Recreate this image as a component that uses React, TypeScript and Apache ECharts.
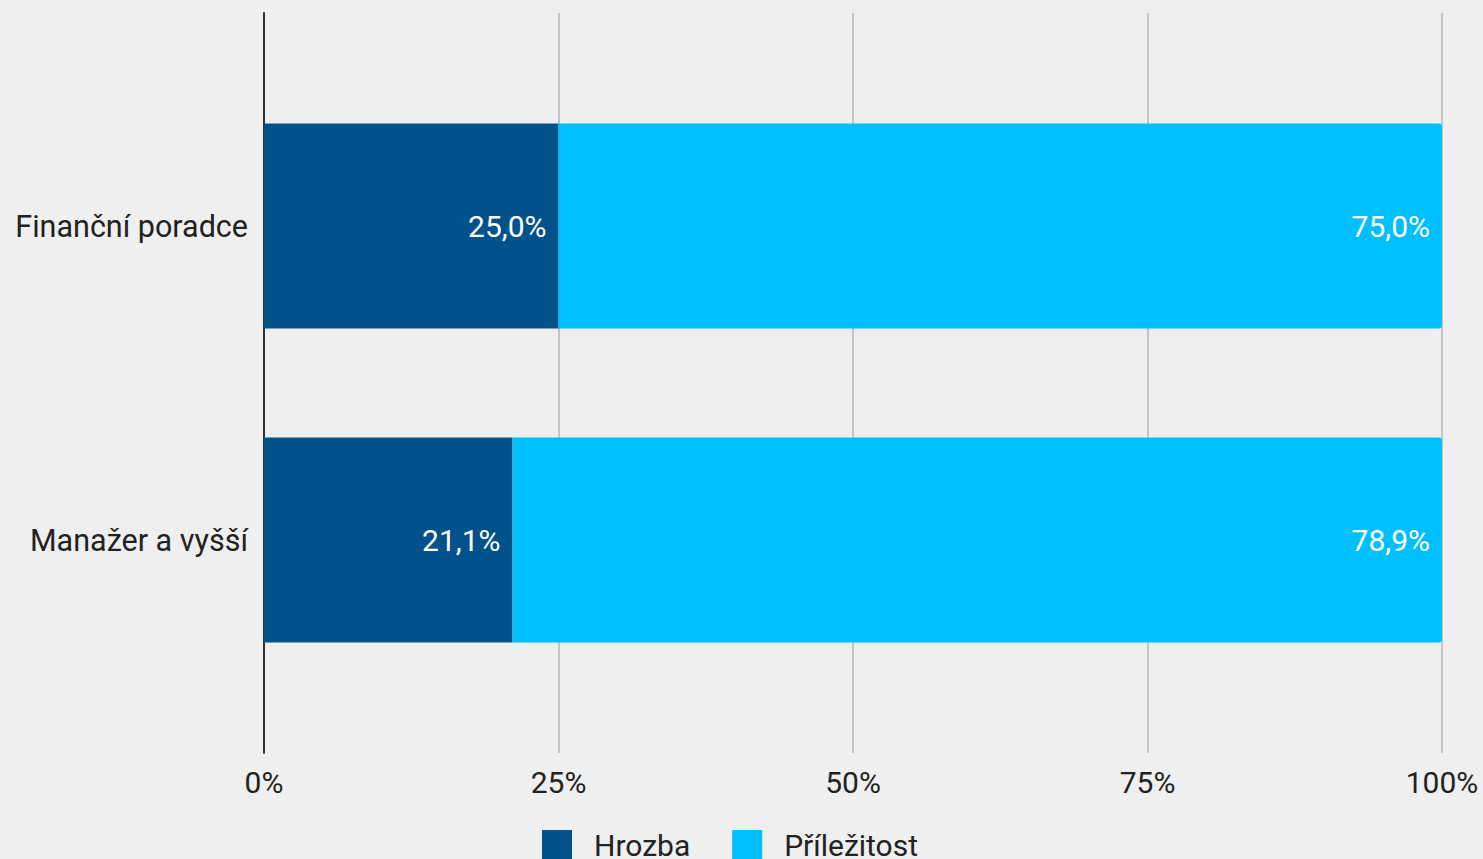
import React, { useEffect, useRef } from "react";
import * as echarts from "echarts";

const categories = ["Finanční poradce", "Manažer a vyšší"];
const hrozba = [25.0, 21.1];
const prilezitost = [75.0, 78.9];
const xTicks = [0, 25, 50, 75, 100];

export default function App() {
  const ref = useRef<HTMLDivElement>(null);
  useEffect(() => {
    if (!ref.current) return;
    const chart = echarts.init(ref.current, null, { renderer: "svg" });
    const fmt = (v: number) => v.toFixed(1).replace(".", ",") + "%";
    const font = "Roboto";
    chart.setOption({
      animation: false,
      backgroundColor: "#efefef",
      textStyle: { fontFamily: font },
      legend: {
        top: 830,
        left: 542,
        icon: "rect",
        itemWidth: 30,
        itemHeight: 30,
        itemGap: 42,
        padding: 0,
        textStyle: { fontSize: 30, color: "#222", fontFamily: font, padding: [0, 0, 0, 17] },
        data: ["Hrozba", "Příležitost"],
      },
      grid: [
        { left: 264, right: 41, top: 13, bottom: 106 },
        { left: 264, right: 41, top: 69, bottom: 162 },
      ],
      xAxis: [
        {
          gridIndex: 0,
          type: "value",
          min: 0,
          max: 100,
          interval: 25,
          axisLine: { show: false },
          axisTick: { show: false },
          splitLine: { show: true, lineStyle: { color: "#c4c4c4", width: 2 } },
          axisLabel: {
            formatter: (v: number) => (xTicks.includes(v) ? v + "%" : ""),
            fontSize: 30,
            color: "#222",
            margin: 14,
            fontFamily: font,
          },
        },
        {
          gridIndex: 1,
          type: "value",
          min: 0,
          max: 100,
          show: false,
        },
      ],
      yAxis: [
        {
          gridIndex: 0,
          type: "category",
          data: [""],
          axisLine: { show: true, lineStyle: { color: "#333", width: 2 } },
          axisTick: { show: false },
          axisLabel: { show: false },
        },
        {
          gridIndex: 1,
          type: "category",
          inverse: true,
          data: categories,
          axisLine: { show: false },
          axisTick: { show: false },
          axisLabel: { fontSize: 30.5, color: "#222", margin: 16, fontFamily: font, padding: [0, 0, 4, 0] },
        },
      ],
      series: [
        {
          name: "Hrozba",
          type: "bar",
          stack: "a",
          xAxisIndex: 1,
          yAxisIndex: 1,
          barWidth: 205,
          data: hrozba,
          itemStyle: { color: "#01528b" },
          label: {
            show: true,
            position: "insideRight",
            distance: 12,
            color: "#fff",
            fontSize: 30,
            fontFamily: font,
            formatter: (p: any) => fmt(p.value),
          },
        },
        {
          name: "Příležitost",
          type: "bar",
          stack: "a",
          xAxisIndex: 1,
          yAxisIndex: 1,
          barWidth: 205,
          data: prilezitost,
          itemStyle: { color: "#00bfff", borderRadius: [0, 3, 3, 0] },
          label: {
            show: true,
            position: "insideRight",
            distance: 12,
            color: "#fff",
            fontSize: 30,
            fontFamily: font,
            formatter: (p: any) => fmt(p.value),
          },
        },
      ],
    });
    return () => chart.dispose();
  }, []);
  return <div ref={ref} style={{ width: 1483, height: 859, position: "absolute", left: 0, top: 0 }} />;
}
